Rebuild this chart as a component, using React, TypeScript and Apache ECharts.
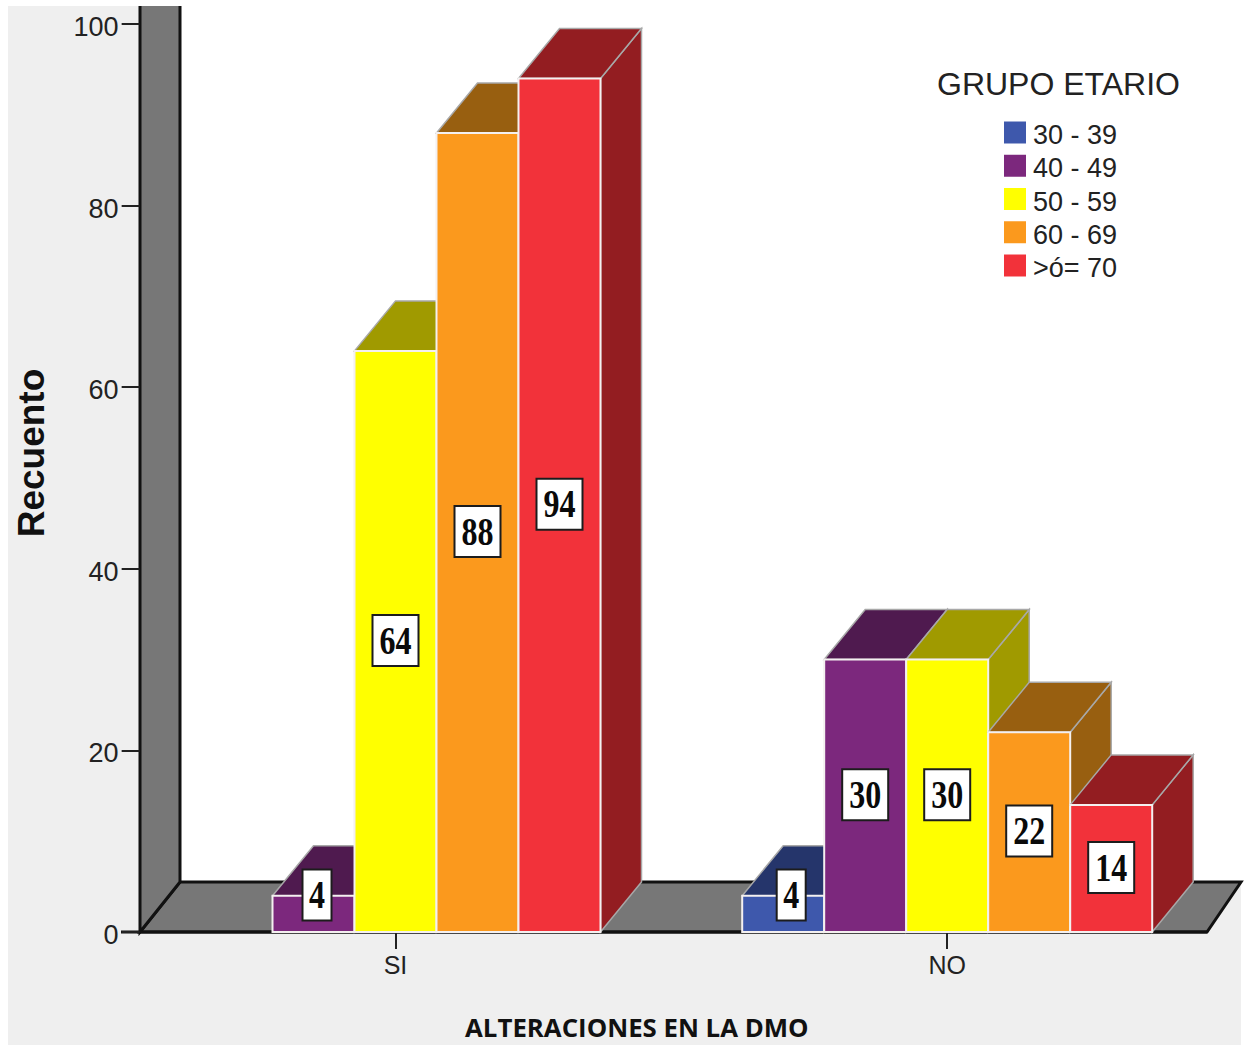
import React, { useEffect, useRef } from "react";
import * as echarts from "echarts";

// Counts per age group for each answer
const categories = ["SI", "NO"];
const ageGroups = ["30 - 39", "40 - 49", "50 - 59", "60 - 69", ">ó= 70"];
const group3039 = [0, 4];
const group4049 = [4, 30];
const group5059 = [64, 30];
const group6069 = [88, 22];
const group70 = [94, 14];
const yTicks = [0, 20, 40, 60, 80, 100];

const frontColors = ["#3e58ac", "#7c287d", "#ffff00", "#fb991d", "#f2323a"];
const shadeColors = ["#25356b", "#4f1a4f", "#a09a00", "#985f10", "#931d21"];

// Extrusion of the boxes and of the chart's back walls
const DEPTH_X = 41;
const DEPTH_Y = -50;
const SLOT = 82;
const SHORT_BOX_LIFT = 37;
const SHORT_BAR_SHIFT = [3.5, 8];

const FONT = "Liberation Sans";
const TEXT = "#222";

function renderBox(groupIndex: number) {
  return (_params: any, api: any) => {
    const cat = api.value(0);
    const value = api.value(1);
    if (!value) return null;
    const center = api.coord([cat, 0]);
    const top = api.coord([cat, value]);
    const x0 = center[0] + (groupIndex - 2) * SLOT - SLOT / 2;
    const x1 = x0 + SLOT;
    const y0 = center[1];
    const y1 = top[1];
    const base = groupIndex * 2 + 1;
    const shade = shadeColors[groupIndex];
    const edge = { stroke: "#a8a8a8", lineWidth: 1.5, fill: shade };
    const short = y0 - y1 < 60;
    const labelX = (x0 + x1) / 2 + (short ? SHORT_BAR_SHIFT[cat] : 0);
    const labelY = short ? y0 - SHORT_BOX_LIFT : (y0 + y1) / 2 - 1;
    const text = String(value);
    const boxW = text.length > 1 ? 46 : 29;
    const boxH = 51;
    return {
      type: "group",
      children: [
        {
          type: "polygon",
          z2: base,
          shape: {
            points: [
              [x1, y0],
              [x1 + DEPTH_X, y0 + DEPTH_Y],
              [x1 + DEPTH_X, y1 + DEPTH_Y],
              [x1, y1],
            ],
          },
          style: edge,
        },
        {
          type: "polygon",
          z2: base,
          shape: {
            points: [
              [x0, y1],
              [x0 + DEPTH_X, y1 + DEPTH_Y],
              [x1 + DEPTH_X, y1 + DEPTH_Y],
              [x1, y1],
            ],
          },
          style: edge,
        },
        {
          type: "rect",
          z2: base + 1,
          shape: { x: x0, y: y1, width: SLOT, height: y0 - y1 },
          style: { fill: frontColors[groupIndex], stroke: "#f4f0f0", lineWidth: 2 },
        },
        {
          type: "rect",
          z2: 100,
          shape: { x: labelX - boxW / 2, y: labelY - boxH / 2, width: boxW, height: boxH },
          style: { fill: "#ffffff", stroke: "#1c1c1c", lineWidth: 2 },
        },
        {
          type: "text",
          z2: 101,
          x: labelX,
          y: labelY,
          scaleY: 1.25,
          style: {
            text,
            fill: "#0a0a0a",
            font: 'bold 32px "Liberation Serif"',
            align: "center",
            verticalAlign: "middle",
          },
        },
      ],
    };
  };
}

const wallColor = "#777777";
const wallStroke = { stroke: "#111111", lineWidth: 3 };

const backdrop = [
  { type: "rect", z: -10, shape: { x: 8, y: 6, width: 1233, height: 1039 }, style: { fill: "#efefef" } },
  { type: "rect", z: -9, shape: { x: 180, y: 6, width: 1061, height: 876 }, style: { fill: "#ffffff" } },
  {
    type: "polygon",
    z: -8,
    shape: { points: [[140, 932], [180, 882], [1241, 882], [1207, 932]] },
    style: { fill: wallColor, ...wallStroke },
  },
  {
    type: "polygon",
    z: -7,
    shape: { points: [[140, 932], [180, 882], [180, 0], [140, 0]] },
    style: { fill: wallColor, ...wallStroke },
  },
  // The walls run off the top edge of the plot
  { type: "rect", z: -6, shape: { x: 130, y: 0, width: 60, height: 6 }, style: { fill: "#ffffff" } },
  { type: "line", z: -6, shape: { x1: 121, y1: 932, x2: 1207, y2: 932 }, style: { stroke: "#111111", lineWidth: 3 } },
];

export default function App() {
  const ref = useRef<HTMLDivElement>(null);

  useEffect(() => {
    const chart = echarts.init(ref.current!, null, { renderer: "svg" });
    const rows = [group3039, group4049, group5059, group6069, group70];
    chart.setOption({
      animation: false,
      backgroundColor: "#ffffff",
      title: {
        text: "GRUPO ETARIO",
        left: 937,
        top: 68,
        padding: 0,
        textStyle: { fontFamily: FONT, fontSize: 32, fontWeight: "normal", color: TEXT },
      },
      legend: {
        data: ageGroups,
        orient: "vertical",
        left: 1004,
        top: 121.5,
        padding: 0,
        itemWidth: 22,
        itemHeight: 22,
        itemGap: 6.25,
        icon: "rect",
        formatter: "{t|{name}}",
        textStyle: {
          fontFamily: FONT,
          fontSize: 27,
          color: TEXT,
          rich: { t: { fontFamily: FONT, fontSize: 27, color: TEXT, padding: [5, 0, 0, 2] } },
        },
      },
      graphic: { elements: backdrop },
      grid: { left: 119.65, width: 1103.4, top: 24, height: 908 },
      xAxis: {
        type: "category",
        data: categories,
        name: "ALTERACIONES EN LA DMO",
        nameLocation: "middle",
        nameGap: 82,
        nameTextStyle: { fontFamily: "Open Sans", fontWeight: "bold", fontSize: 25.8, color: "#111", padding: [0, 69, 0, 0] },
        axisLine: { show: false },
        axisTick: { show: true, alignWithLabel: true, length: 17, lineStyle: { color: "#222", width: 2 } },
        axisLabel: { fontFamily: FONT, fontSize: 25, color: TEXT, margin: 20 },
      },
      yAxis: {
        type: "value",
        min: 0,
        max: 100,
        interval: yTicks[1] - yTicks[0],
        offset: -20,
        name: "Recuento",
        nameLocation: "middle",
        nameGap: 90,
        nameTextStyle: { fontFamily: FONT, fontWeight: "bold", fontSize: 37, color: "#111", padding: [0, 0, 0, 50] },
        splitLine: { show: false },
        axisLine: { show: false },
        axisTick: { show: true, length: 18, lineStyle: { color: "#222", width: 2 } },
        axisLabel: {
          margin: 21,
          formatter: "{v|{value}}",
          rich: { v: { fontFamily: FONT, fontSize: 27, color: TEXT, padding: [6, 0, 0, 0] } },
        },
      },
      series: ageGroups.map((name, i) => ({
        type: "custom",
        name,
        silent: true,
        clip: false,
        itemStyle: { color: frontColors[i] },
        encode: { x: 0, y: 1 },
        data: rows[i].map((v, c) => [c, v]),
        renderItem: renderBox(i),
      })),
    });
    return () => chart.dispose();
  }, []);

  return <div ref={ref} style={{ position: "absolute", left: 0, top: 0, width: 1244, height: 1045 }} />;
}
